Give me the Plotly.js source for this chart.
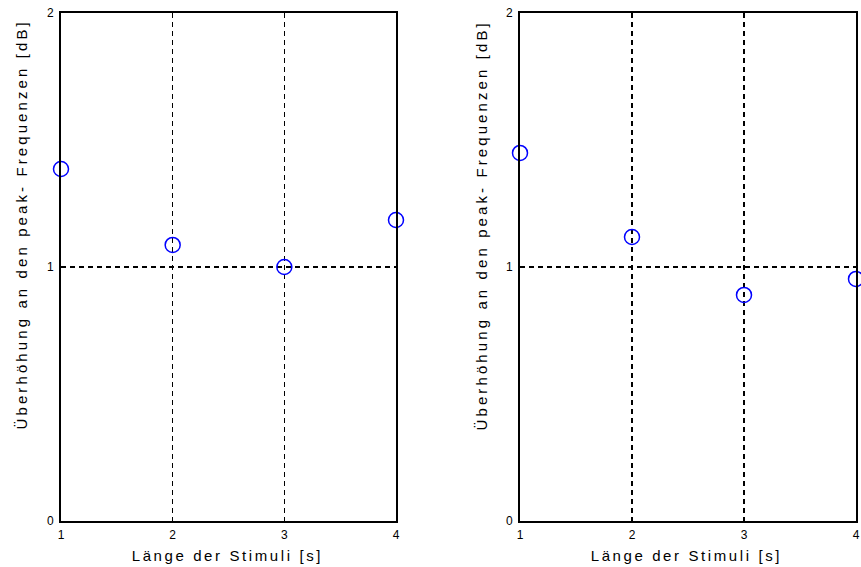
<!DOCTYPE html>
<html>
<head>
<meta charset="utf-8">
<script src="https://cdn.plot.ly/plotly-3.0.1.min.js"></script>
<style>
html,body{margin:0;padding:0;background:#fff;}
.spaced-x text{letter-spacing:2.6px;}
.spaced-y text{letter-spacing:3.1px;}
</style>
</head>
<body>
<div id="chart" style="width:861px;height:567px;"></div>
<script>
var stimulusLength = [1, 2, 3, 4];
var leftValues = [1.386, 1.087, 1.0, 1.185];
var rightValues = [1.449, 1.118, 0.89, 0.953];
var xTicks = [1, 2, 3, 4];
var yTicks = [0, 1, 2];
var xTitle = 'Länge der Stimuli [s]';
var yTitle = 'Überhöhung an den peak- Frequenzen [dB]';

var W = 861, H = 567;
function px(x){return x / W;}
function py(y){return 1 - y / H;}

var markerStyle = {symbol: 'circle-open', size: 15, color: '#0000ff', line: {width: 1.5, color: '#0000ff'}};

var traces = [
  {x: stimulusLength, y: leftValues, type: 'scatter', mode: 'markers', marker: markerStyle, xaxis: 'x', yaxis: 'y', cliponaxis: false, hoverinfo: 'x+y'},
  {x: stimulusLength, y: rightValues, type: 'scatter', mode: 'markers', marker: markerStyle, xaxis: 'x2', yaxis: 'y2', cliponaxis: false, hoverinfo: 'x+y'}
];

var tickFont = {family: 'Liberation Sans, Arial, sans-serif', size: 12, color: '#000'};

function xAxis(domain, anchor){
  return {
    domain: domain, anchor: anchor, range: [1, 4],
    tickmode: 'array', tickvals: xTicks, ticktext: xTicks.map(String),
    showgrid: true, gridcolor: '#000', gridwidth: 1.1, griddash: '5px,4px',
    showline: true, mirror: true, linecolor: '#000', linewidth: 2,
    zeroline: false, ticks: '', ticklabelstandoff: 2,
    tickfont: tickFont
  };
}
function yAxis(anchor){
  return {
    domain: [py(521), py(13)], anchor: anchor, range: [0, 2],
    tickmode: 'array', tickvals: yTicks, ticktext: yTicks.map(String),
    showgrid: true, gridcolor: '#000', gridwidth: 1.1, griddash: '5px,4px',
    showline: true, mirror: true, linecolor: '#000', linewidth: 2,
    zeroline: false, ticks: '', ticklabelstandoff: 3,
    tickfont: tickFont
  };
}

var titleFont = {family: 'Liberation Sans, Arial, sans-serif', size: 15, color: '#000'};

var layout = {
  width: W, height: H,
  margin: {l: 0, r: 0, t: 0, b: 0},
  paper_bgcolor: '#fff', plot_bgcolor: '#fff',
  showlegend: false,
  xaxis: xAxis([px(61), px(396)], 'y'),
  yaxis: yAxis('x'),
  xaxis2: xAxis([px(520), px(856)], 'y2'),
  yaxis2: yAxis('x2'),
  annotations: [
    {text: xTitle, xref: 'paper', yref: 'paper', x: px(227), y: py(555), xanchor: 'center', yanchor: 'middle', showarrow: false, font: titleFont},
    {text: xTitle, xref: 'paper', yref: 'paper', x: px(686), y: py(555), xanchor: 'center', yanchor: 'middle', showarrow: false, font: titleFont},
    {text: yTitle, xref: 'paper', yref: 'paper', x: px(22), y: py(225), xanchor: 'center', yanchor: 'middle', textangle: -90, showarrow: false, font: titleFont},
    {text: yTitle, xref: 'paper', yref: 'paper', x: px(482), y: py(225), xanchor: 'center', yanchor: 'middle', textangle: -90, showarrow: false, font: titleFont}
  ]
};

Plotly.newPlot('chart', traces, layout, {displayModeBar: false, staticPlot: true}).then(function(){
  var anns = document.querySelectorAll('.annotation');
  anns.forEach(function(a, i){
    a.classList.add(i < 2 ? 'spaced-x' : 'spaced-y');
  });
});
</script>
</body>
</html>
